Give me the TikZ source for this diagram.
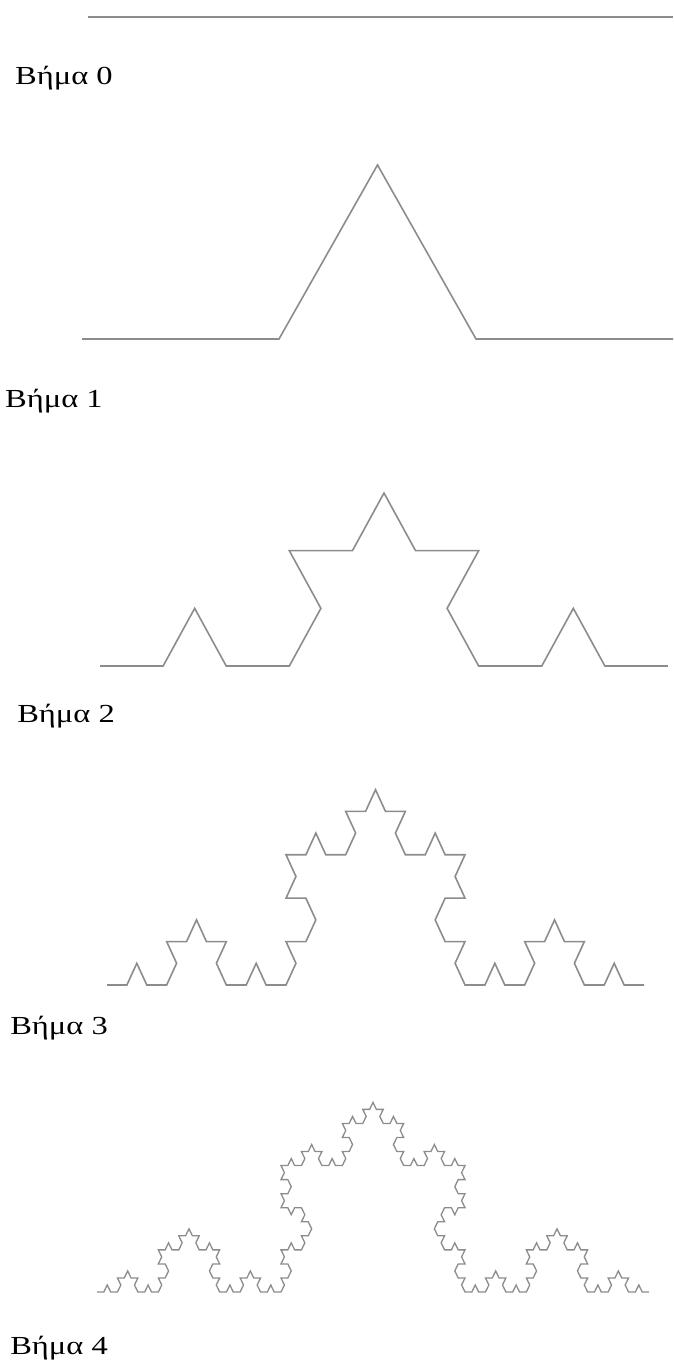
\documentclass[tikz,border=0pt]{standalone}
\usepackage{fontspec}
\setmainfont{Liberation Serif}
\usetikzlibrary{lindenmayersystems}
\pgfdeclarelindenmayersystem{Koch}{\rule{F -> F+F--F+F}}

\begin{document}
\begin{tikzpicture}[
    x=1pt, y=1pt,
    vima/.style={anchor=base west, inner sep=0pt, font=\fontsize{26}{31}\selectfont,
                 xscale=1.25, transform shape},
    grammi/.style={draw=black!45, line width=1.6pt}
]
\useasboundingbox (0,0) rectangle (673,1361);
% step 0
\draw[grammi] (88,1344) -- (673,1344);
\node[vima] (b0) at (15,1276) {Βήμα 0};
% step 1
\begin{scope}[shift={(82,1022)}, yscale=1.02]
\draw[grammi, lindenmayer system={Koch, axiom=F, order=1, step=197pt, angle=60}] lindenmayer system;
\end{scope}
\node[vima] (b1) at (5,953) {Βήμα 1};
% step 2
\begin{scope}[shift={(100,695)}, yscale=1.055]
\draw[grammi, lindenmayer system={Koch, axiom=F, order=2, step=63.11pt, angle=60}] lindenmayer system;
\end{scope}
\node[vima] (b2) at (17,638) {Βήμα 2};
% step 3
\begin{scope}[shift={(107,376)}, yscale=1.26]
\draw[grammi, lindenmayer system={Koch, axiom=F, order=3, step=19.89pt, angle=60}] lindenmayer system;
\end{scope}
\node[vima] (b3) at (10,326) {Βήμα 3};
% step 4
\begin{scope}[shift={(97,69)}, yscale=1.19]
\draw[grammi, line width=1.3pt, lindenmayer system={Koch, axiom=F, order=4, step=6.815pt, angle=60}] lindenmayer system;
\end{scope}
\node[vima] (b4) at (10,6) {Βήμα 4};
\end{tikzpicture}
\end{document}
